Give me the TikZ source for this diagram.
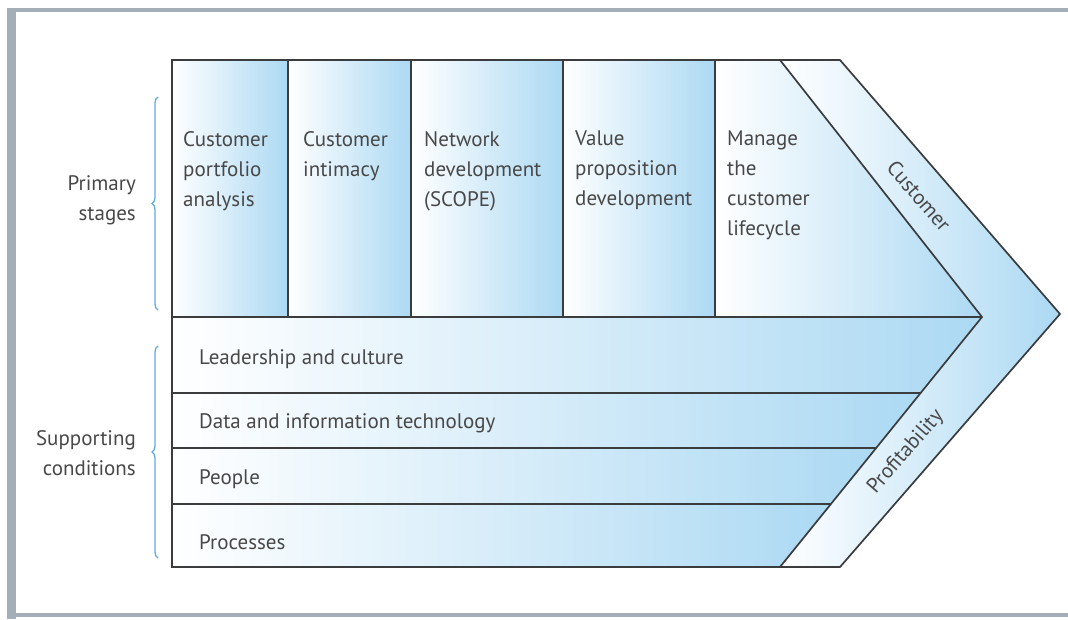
\documentclass[tikz,border=0pt]{standalone}
\usepackage{fontspec}
\setmainfont{PT Sans}
\usetikzlibrary{decorations.pathreplacing}
\definecolor{cellblue}{RGB}{172,217,243}
\definecolor{framegray}{RGB}{163,174,184}
\definecolor{bracecolor}{RGB}{95,172,224}
\definecolor{textgray}{RGB}{72,72,72}
\definecolor{linegray}{RGB}{58,60,62}

\begin{document}
\begin{tikzpicture}[x=1pt,y=-1pt,
  cell/.style={left color=white,right color=cellblue},
  edge/.style={draw=linegray,line width=1.7pt},
  lbl/.style={text=textgray,font=\fontsize{21}{30}\selectfont,inner sep=0pt,align=left,anchor=north west},
  rowlbl/.style={text=textgray,font=\fontsize{21}{30}\selectfont,inner sep=0pt,anchor=west},
  sidelbl/.style={text=textgray,font=\fontsize{21}{30}\selectfont,inner sep=0pt,align=right,anchor=east},
  curly/.style={draw=bracecolor,line width=1.3pt,decorate,decoration={brace,amplitude=6pt}}]

\useasboundingbox (0,0) rectangle (1068,619);
\fill[framegray] (7,8) rectangle (16,619);
\fill[framegray] (7,8) rectangle (1068,12);
\fill[framegray] (7,613) rectangle (1068,617);

\coordinate (cTL) at (172,60);
\coordinate (cML) at (172,317);
\coordinate (cBL) at (172,567);
\coordinate (cIT) at (780,60);
\coordinate (cOT) at (840,60);
\coordinate (cIP) at (982,317);
\coordinate (cOP) at (1060,314);
\coordinate (cIB) at (780,567);
\coordinate (cOB) at (840,567);

\shade[cell] (cIT) -- (cOT) -- (cOP) -- (cOB) -- (cIB) -- (cIP) -- cycle;
\foreach \xa/\xb in {172/288,288/411,411/563,563/715}
  \shade[cell] (\xa,60) rectangle (\xb,317);
\shade[cell] (715,60) -- (cIT) -- (cIP) -- (715,317) -- cycle;
\foreach \ya/\xa/\yb/\xb in {317/982/393/920.6,393/920.6/448/876.2,448/876.2/504/830.9,504/830.9/567/780}
  \shade[cell] (172,\ya) -- (\xa,\ya) -- (\xb,\yb) -- (172,\yb) -- cycle;

\draw[edge] (cTL) -- (cOT) -- (cOP) -- (cOB) -- (cBL) -- cycle;
\draw[edge] (cIT) -- (cIP) -- (cIB);
\draw[edge] (cML) -- (cIP);
\foreach \x in {288,411,563,715}
  \draw[edge] (\x,60) -- (\x,317);
\foreach \y/\x in {393/920.6,448/876.2,504/830.9}
  \draw[edge] (172,\y) -- (\x,\y);

\node[lbl] (portfolio) at (183,131) {Customer\\portfolio\\analysis};
\node[lbl] (intimacy)  at (303,131) {Customer\\intimacy};
\node[lbl] (network)   at (424,131) {Network\\development\\(SCOPE)};
\node[lbl] (value)     at (575,131) {Value\\proposition\\development};
\node[lbl] (lifecycle) at (727,131) {Manage\\the\\customer\\lifecycle};

\node[rowlbl] (leadership) at (199,359) {Leadership and culture};
\node[rowlbl] (data)       at (199,423) {Data and information technology};
\node[rowlbl] (people)     at (199,479) {People};
\node[rowlbl] (processes)  at (199,542) {Processes};

\node[rowlbl,anchor=center,rotate=-49] (customer) at (919,196) {Customer};
\node[rowlbl,anchor=center,rotate=49]  (profit)   at (906,452) {Profitability};

\node[sidelbl] (primary)    at (136,200) {Primary\\stages};
\node[sidelbl] (supporting) at (136,453) {Supporting\\conditions};

\coordinate (bPt) at (158,97);
\coordinate (bPb) at (158,310);
\coordinate (bSt) at (158,346);
\coordinate (bSb) at (158,558);
\draw[curly] (bPb) -- (bPt);
\draw[curly] (bSb) -- (bSt);

\end{tikzpicture}
\end{document}
